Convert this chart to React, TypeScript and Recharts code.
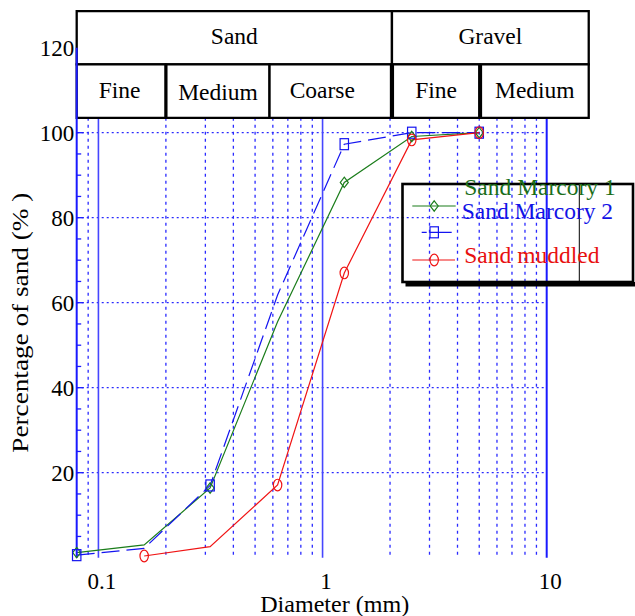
import React from 'react';
import { LineChart, Line, XAxis, YAxis, CartesianGrid, ReferenceArea, Legend } from 'recharts';

// ---- data ----
const sieveSizes = [0.08, 0.16, 0.315, 0.63, 1.25, 2.5, 5];
const marcory1 = [1.2, 3.0, 16.4, 55.5, 88.3, 99.1, 100];
const marcory2 = [0.6, 2.2, 17.0, 61.8, 97.3, 100, 100];
const muddled = [null, 0.4, 2.6, 17.1, 67.0, 98.3, 100];

const marcory1Marked = [0, 2, 4, 5, 6];
const marcory2Marked = [0, 2, 4, 5, 6];
const muddledMarked = [1, 3, 4, 5, 6];

const xTicks = [0.1, 1, 10];
const yTicks = [0, 5, 10, 15, 20, 25, 30, 35, 40, 45, 50, 55, 60, 65, 70, 75, 80, 85, 90, 95, 100, 105, 110, 115, 120];
const yLabelled = [20, 40, 60, 80, 100, 120];
const minorDiameters = [0.09, 0.2, 0.3, 0.4, 0.5, 0.6, 0.7, 0.8, 0.9, 2, 3, 4, 5, 6, 7, 8, 9];
const majorDiameters = [0.1, 1];
const frameDiameters = [10];
const percentGrid = [20, 40, 60, 80, 100];

// size-class bands (mm), drawn as boxes above the plot
const topClasses = [
  { name: 'Sand', from: 0.08, to: 2.04 },
  { name: 'Gravel', from: 2.04, to: 15.4 },
];
const bottomClasses = [
  { name: 'Fine', from: 0.08, to: 0.199 },
  { name: 'Medium', from: 0.201, to: 0.58 },
  { name: 'Coarse', from: 0.58, to: 2.02 },
  { name: 'Fine', from: 2.06, to: 5.0 },
  { name: 'Medium', from: 5.09, to: 15.4 },
];
const topRow = [116.1, 128.6];
const bottomRow = [103.5, 116.1];

const seriesInfo = [
  { key: 'm1', name: 'Sand Marcory 1', color: '#1b7d1b', text: '#1a6e1a' },
  { key: 'm2', name: 'Sand Marcory 2', color: '#1414f0', text: '#1212e6' },
  { key: 'mud', name: 'Sand muddled', color: '#f01414', text: '#e81010' },
];

const data = sieveSizes.map((d, i) => ({ d, m1: marcory1[i], m2: marcory2[i], mud: muddled[i] }));

const FONT = '"Liberation Serif", "Times New Roman", serif';
const GRID = '#2a2aff';
const AXIS = '#1a1aff';

const Diamond = ({ cx, cy, color }: any) => (
  <path d={`M${cx},${cy - 5.2} L${cx + 4},${cy} L${cx},${cy + 5.2} L${cx - 4},${cy} Z`} fill="none" stroke={color} strokeWidth={1.2} />
);
const Square = ({ cx, cy, color }: any) => (
  <rect x={cx - 4.2} y={cy - 5.5} width={8.4} height={11} fill="none" stroke={color} strokeWidth={1.2} />
);
const Ellipse = ({ cx, cy, color }: any) => (
  <ellipse cx={cx} cy={cy} rx={4.2} ry={5.8} fill="none" stroke={color} strokeWidth={1.2} />
);

const makeDot = (Shape: any, marked: number[], color: string) => (props: any) => {
  const { cx, cy, index } = props;
  if (cx == null || cy == null || !marked.includes(index)) return <g key={`d${index}`} />;
  return <g key={`d${index}`}><Shape cx={cx} cy={cy} color={color} /></g>;
};

const LeftTick = (props: any) => {
  const { x, y, payload } = props;
  const v = payload.value;
  const major = v % 20 === 0;
  return (
    <g>
      {v > 0 && v <= 100 ? <line x1={x} x2={x + (major ? 7 : 4.5)} y1={y} y2={y} stroke={AXIS} strokeWidth={1.3} /> : null}
      {major && yLabelled.includes(v) ? (
        <text x={x - 2.5} y={y} dy="0.36em" textAnchor="end" fontSize={23} fontFamily={FONT} fill="#000">{v}</text>
      ) : null}
    </g>
  );
};

const RightTick = (props: any) => {
  const { x, y, payload } = props;
  const v = payload.value;
  const major = v % 20 === 0;
  if (v <= 0 || v > 100) return <g />;
  return <line x1={x} x2={x - (major ? 7 : 5)} y1={y} y2={y} stroke={AXIS} strokeWidth={1.3} />;
};

const XTick = (props: any) => {
  const { x, y, payload } = props;
  return (
    <text x={x + 3.5} y={y + 31} textAnchor="middle" fontSize={23} fontFamily={FONT} fill="#000">{payload.value}</text>
  );
};

const XTitle = (props: any) => {
  const vb = props.viewBox || {};
  return (
    <text x={vb.x + vb.width / 2 + 23} y={vb.y + 54.5} textAnchor="middle" fontSize={23} fontFamily={FONT} fill="#000" textLength={149} lengthAdjust="spacingAndGlyphs">
      Diameter (mm)
    </text>
  );
};

const YTitle = (props: any) => {
  const vb = props.viewBox || {};
  const cx = vb.x + 27.7;
  const cy = vb.y + vb.height / 2 + 20;
  return (
    <text x={cx} y={cy} transform={`rotate(-90 ${cx} ${cy})`} textAnchor="middle" fontSize={22.5} fontFamily={FONT} fill="#000" textLength={260} lengthAdjust="spacingAndGlyphs">
      Percentage of sand (% )
    </text>
  );
};

const BoxText = (props: any) => {
  const vb = props.viewBox || {};
  return (
    <text x={vb.x + vb.width / 2 + (props.dx || 0)} y={vb.y + vb.height / 2 + 7.5 + (props.dy || 0)} textAnchor="middle" fontSize={23.5} fontFamily={FONT} fill="#000">
      {props.text}
    </text>
  );
};

const LegendBox = () => {
  const rows = [
    { s: seriesInfo[0], ly: 26, ty: 15, tx: 64.3, x1: 12.3, x2: 55.7, Shape: Diamond, dash: undefined },
    { s: seriesInfo[1], ly: 52.3, ty: 39, tx: 61.7, x1: 21.7, x2: 51.7, Shape: Square, dash: '5 3 30' },
    { s: seriesInfo[2], ly: 80, ty: 83.3, tx: 64.3, x1: 12.3, x2: 55, Shape: Ellipse, dash: undefined },
  ];
  return (
    <svg width={240} height={112} style={{ overflow: 'visible', display: 'block' }}>
      <rect x={5.5} y={102} width={236} height={4.5} fill="#000" />
      <rect x={2.5} y={4} width={230.5} height={98} fill="none" stroke="#000" strokeWidth={2.6} />
      <line x1={179.3} x2={179.3} y1={4} y2={102} stroke="#000" strokeWidth={1} />
      {rows.map((r) => (
        <g key={r.s.key}>
          <line x1={r.x1} x2={r.x2} y1={r.ly} y2={r.ly} stroke={r.s.color} strokeWidth={1.2} strokeDasharray={r.dash} />
          <r.Shape cx={34.2} cy={r.ly} color={r.s.color} />
          <text x={r.tx} y={r.ty} fontSize={23.5} fontFamily={FONT} fill={r.s.text}>{r.s.name}</text>
        </g>
      ))}
    </svg>
  );
};

const boxDx = (c: any) => (c.name === 'Coarse' ? -8 : c.name === 'Fine' && c.from < 1 ? -1.5 : 0);
const boxDy = (c: any) => (c.name === 'Medium' && c.from < 1 ? 1 : -0.5);

export default function App() {
  return (
    <div style={{ position: 'absolute', left: 0, top: 0, width: 635, height: 616, background: '#fff' }}>
      <LineChart width={635} height={616} data={data} margin={{ top: 47.7, right: 78.3, bottom: 18.3, left: 0 }}>
        <CartesianGrid yAxisId="left" vertical={false} horizontal={true} horizontalValues={percentGrid} stroke={GRID} strokeWidth={1.3} strokeDasharray="2 3" />
        <CartesianGrid yAxisId="left" vertical={true} horizontal={false} verticalValues={minorDiameters} stroke={GRID} strokeWidth={1.3} strokeDasharray="3 4" />
        <CartesianGrid yAxisId="left" vertical={true} horizontal={false} verticalValues={majorDiameters} stroke="#4646ff" strokeWidth={1.6} />
        <CartesianGrid yAxisId="left" vertical={true} horizontal={false} verticalValues={frameDiameters} stroke={AXIS} strokeWidth={2} />
        <XAxis
          dataKey="d"
          type="number"
          scale="log"
          domain={[0.08, 10]}
          ticks={xTicks}
          interval={0}
          tick={<XTick />}
          tickLine={false}
          axisLine={false}
          tickSize={0}
          tickMargin={0}
          height={40}
          label={<XTitle />}
        />
        <YAxis
          yAxisId="left"
          type="number"
          domain={[0, 120]}
          ticks={yTicks}
          interval={0}
          tick={<LeftTick />}
          tickLine={false}
          tickSize={0}
          tickMargin={0}
          width={76.7}
          axisLine={{ stroke: AXIS, strokeWidth: 2 }}
          label={<YTitle />}
        />
        <YAxis
          yAxisId="right"
          orientation="right"
          type="number"
          domain={[0, 120]}
          ticks={yTicks}
          interval={0}
          tick={<RightTick />}
          tickLine={false}
          tickSize={0}
          tickMargin={0}
          width={10}
          axisLine={false}
        />
        {topClasses.map((c, i) => (
          <ReferenceArea
            key={`t${i}`}
            yAxisId="left"
            x1={c.from}
            x2={c.to}
            y1={topRow[0]}
            y2={topRow[1]}
            ifOverflow="visible"
            fill="#fff"
            fillOpacity={1}
            stroke="#000"
            strokeWidth={2.3}
            label={<BoxText text={c.name} dy={-1.5} />}
          />
        ))}
        {bottomClasses.map((c, i) => (
          <ReferenceArea
            key={`b${i}`}
            yAxisId="left"
            x1={c.from}
            x2={c.to}
            y1={bottomRow[0]}
            y2={bottomRow[1]}
            ifOverflow="visible"
            fill="#fff"
            fillOpacity={1}
            stroke="#000"
            strokeWidth={2.3}
            label={<BoxText text={c.name} dx={boxDx(c)} dy={boxDy(c)} />}
          />
        ))}
        <Line yAxisId="left" dataKey="m1" name={seriesInfo[0].name} stroke={seriesInfo[0].color} strokeWidth={1.2} dot={makeDot(Diamond, marcory1Marked, seriesInfo[0].color)} activeDot={false} isAnimationActive={false} />
        <Line yAxisId="left" dataKey="m2" name={seriesInfo[1].name} stroke={seriesInfo[1].color} strokeWidth={1.2} strokeDasharray="18 7" dot={makeDot(Square, marcory2Marked, seriesInfo[1].color)} activeDot={false} isAnimationActive={false} />
        <Line yAxisId="left" dataKey="mud" name={seriesInfo[2].name} stroke={seriesInfo[2].color} strokeWidth={1.2} dot={makeDot(Ellipse, muddledMarked, seriesInfo[2].color)} activeDot={false} isAnimationActive={false} />
        <Legend
          layout="vertical"
          align="center"
          verticalAlign="middle"
          wrapperStyle={{ position: 'absolute', left: 400, top: 180, width: 240, height: 112 }}
          content={() => <LegendBox />}
        />
      </LineChart>
    </div>
  );
}
